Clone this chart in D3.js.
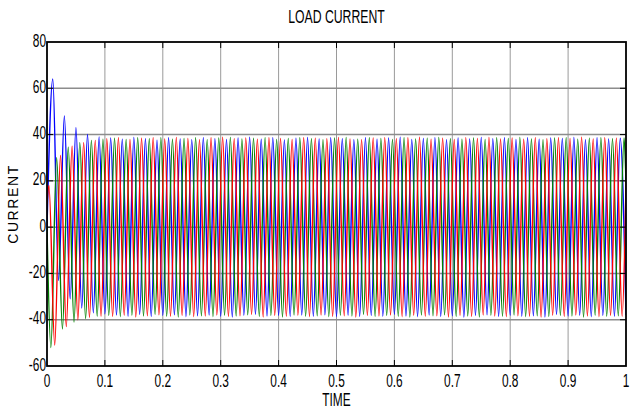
<!DOCTYPE html>
<html><head><meta charset="utf-8">
<script src="https://cdn.jsdelivr.net/npm/d3@7"></script>
<style>
body{margin:0;background:#fff;}
text{font-family:"Liberation Sans",Arial,sans-serif;fill:#000;}
</style></head>
<body><svg id="c" width="643" height="414"></svg>
<script>
const title = "LOAD CURRENT";
const xLabel = "TIME";
const yLabel = "CURRENT";
const xTicks = [0,0.1,0.2,0.3,0.4,0.5,0.6,0.7,0.8,0.9,1];
const xTickLabels = ["0","0.1","0.2","0.3","0.4","0.5","0.6","0.7","0.8","0.9","1"];
const yTicks = [-60,-40,-20,0,20,40,60,80];
const seriesNames = ["Phase A","Phase B","Phase C"];
const seriesColors = ["#0000ff","#008000","#ff0000"];
// time of first extremum of each phase (s), spacing between extrema (half cycle, 50 Hz)
const firstExtremumTime = [0.01, 0.00667, 0.00333];
const halfCycle = 0.01;
const startValues = [0, 0, 10];
const endValues = [-38, 19, 19];
// successive peak / trough values
const phaseA = [64,-23,48,-31,43,-35,40,-37,39,-37.5,
 38.5,-38,38,-38.5,38.8,-37.8,38.2,-38.6,37.6,-38.2,
 38.6,-37.9,38.1,-38.7,37.8,-38.3,38.7,-38,38.2,-38.5,
 37.9,-38.8,38.5,-38.1,38.9,-37.7,38,-38.4,38.6,-38.2,
 37.7,-38.6,38.4,-38,38.8,-38.5,38.1,-37.9,38.6,-38.7,
 38.2,-38.1,37.8,-38.6,38.7,-38.2,38,-38.5,38.5,-37.8,
 38.9,-38.4,37.9,-38.7,38.3,-38,38.7,-38.6,37.8,-38.3,
 38.5,-38.9,38.1,-38.2,38.8,-37.9,38.2,-38.6,38.6,-38.1,
 37.9,-38.5,38.7,-38.3,38,-38.8,38.5,-37.8,38.3,-38.4,
 38.8,-38.1,37.8,-38.7,38.6,-38.2,38.1,-38.5,38.4,-38];
const phaseB = [-52,30,-44,34.5,-41,36.5,-39.5,37.5,-38.5,38,
 -38.2,38.4,-38.7,37.9,-38.1,38.6,-38.4,38.2,-37.8,38.7,
 -38.5,38,-38.8,38.3,-38,38.6,-38.3,37.8,-38.7,38.5,
 -38.1,38.8,-38.4,38.1,-37.9,38.4,-38.6,38.7,-38.2,37.9,
 -38.8,38.3,-38,38.6,-38.5,38.2,-38.3,37.8,-38.7,38.5,
 -38.1,38.8,-38.4,38,-37.8,38.6,-38.6,38.3,-38.2,37.9,
 -38.5,38.7,-38.9,38.1,-38,38.4,-38.3,38.8,-37.9,38.2,
 -38.6,38,-38.4,38.5,-38.8,37.9,-38.1,38.6,-38.5,38.3,
 -38,38.8,-38.7,38.1,-38.3,37.8,-38.6,38.5,-38.2,38.7,
 -38.4,38,-38.9,38.4,-38.1,38.6,-38.5,38.2,-38.3,38.5];
const phaseC = [18,-51,31,-43,35,-40,36.5,-39,37.5,-38.5,
 38.2,-38.6,38.7,-38.1,37.9,-38.8,38.4,-38.3,38.6,-37.9,
 38.1,-38.5,38.8,-38.2,38.3,-38.7,37.8,-38.4,38.6,-38,
 38.9,-38.6,38.2,-38.3,38.5,-37.8,38,-38.8,38.7,-38.2,
 38.3,-38.5,37.9,-38.1,38.6,-38.7,38.4,-38,38.2,-38.6,
 38.8,-38.3,38.1,-38.9,37.8,-38.2,38.5,-38.4,38.7,-38,
 38.2,-38.7,38.6,-38.1,38.9,-38.5,38,-38.3,38.4,-38.8,
 37.9,-38.2,38.7,-38.6,38.3,-38,38.8,-38.4,38.1,-38.7,
 38.5,-38.3,38,-38.5,38.6,-38.9,38.2,-38.1,38.7,-38.6,
 38.3,-38,38.9,-38.4,38.1,-38.7,38.6,-38.2,38.4,-38.5];
const seriesValues = [phaseA, phaseB, phaseC];

const svg = d3.select("#c");
const L = 47, R = 626, T = 42, B = 366;
const x = d3.scaleLinear().domain([0,1]).range([L,R]);
const y = d3.scaleLinear().domain([-60,80]).range([B,T]);

// grid
const g = svg.append("g");
g.selectAll(".vg").data(xTicks.slice(1,-1)).enter().append("line")
  .attr("x1",d=>x(d)).attr("x2",d=>x(d)).attr("y1",T).attr("y2",B)
  .attr("stroke","#9a9a9a").attr("stroke-width",1);
g.selectAll(".hg").data(yTicks.slice(1,-1)).enter().append("line")
  .attr("x1",L).attr("x2",R).attr("y1",d=>y(d)).attr("y2",d=>y(d))
  .attr("stroke","#8c8c8c").attr("stroke-width",1.5);

// series
const clip = svg.append("clipPath").attr("id","pc").append("rect")
  .attr("x",L).attr("y",T).attr("width",R-L).attr("height",B-T);
const line = d3.line().x(d=>x(d[0])).y(d=>y(d[1])).curve(d3.curveMonotoneX);
seriesValues.forEach((vals,si)=>{
  const pts = [[0,startValues[si]]];
  vals.forEach((v,i)=>pts.push([firstExtremumTime[si]+i*halfCycle, v]));
  if (pts[pts.length-1][0] < 1 - 1e-6) pts.push([1,endValues[si]]);
  svg.append("path").attr("d",line(pts)).attr("fill","none")
    .attr("stroke",seriesColors[si]).attr("stroke-width",1.4)
    .attr("clip-path","url(#pc)");
});

// axes box
const tl = 6;
const ax = svg.append("g").attr("stroke","#000");
xTicks.slice(1,-1).forEach(t=>{
  ax.append("line").attr("x1",x(t)).attr("x2",x(t)).attr("y1",B).attr("y2",B-tl).attr("stroke-width",1);
  ax.append("line").attr("x1",x(t)).attr("x2",x(t)).attr("y1",T).attr("y2",T+tl).attr("stroke-width",1);
});
yTicks.slice(1,-1).forEach(t=>{
  ax.append("line").attr("x1",L).attr("x2",L+tl).attr("y1",y(t)).attr("y2",y(t)).attr("stroke-width",1);
  ax.append("line").attr("x1",R).attr("x2",R-tl).attr("y1",y(t)).attr("y2",y(t)).attr("stroke-width",1);
});
svg.append("rect").attr("x",L).attr("y",T).attr("width",R-L).attr("height",B-T)
  .attr("fill","none").attr("stroke","#000").attr("stroke-width",1.8);

// tick labels (condensed)
const fs = 17.5, sx = 0.68;
xTicks.forEach((t,i)=>{
  svg.append("text").attr("transform",`translate(${x(t)},${B+16}) scale(${sx},1)`)
    .attr("text-anchor","middle").attr("dominant-baseline","middle")
    .attr("font-size",fs).text(xTickLabels[i]);
});
yTicks.forEach(t=>{
  svg.append("text").attr("transform",`translate(${L-1},${y(t)}) scale(${sx},1)`)
    .attr("text-anchor","end").attr("dominant-baseline","middle")
    .attr("font-size",fs).text(t);
});
svg.append("text").attr("transform",`translate(${(L+R)/2},${18}) scale(${sx},1)`)
  .attr("text-anchor","middle").attr("dominant-baseline","middle")
  .attr("font-size",18).text(title);
svg.append("text").attr("transform",`translate(${(L+R)/2},${401}) scale(${sx},1)`)
  .attr("text-anchor","middle").attr("dominant-baseline","middle")
  .attr("font-size",17.5).text(xLabel);
svg.append("text").attr("transform",`translate(14,${(T+B)/2}) rotate(-90)`)
  .attr("text-anchor","middle").attr("dominant-baseline","middle")
  .attr("font-size",14).attr("letter-spacing",1.6).text(yLabel);
</script></body></html>
